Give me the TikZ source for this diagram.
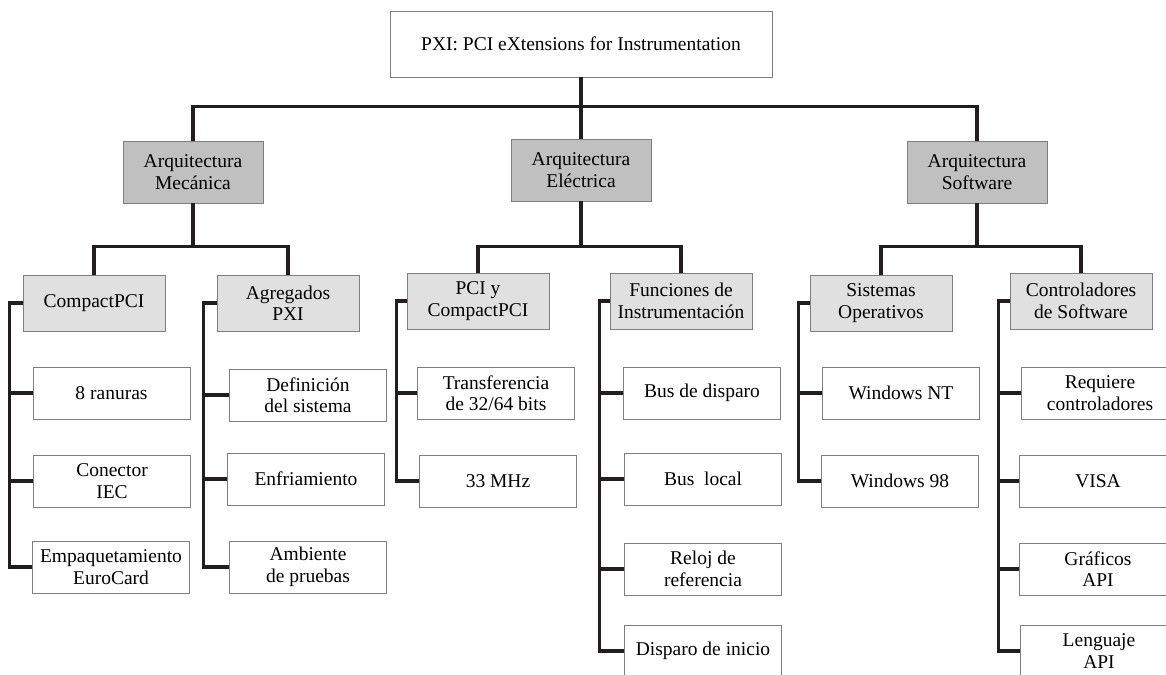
\documentclass[tikz,border=0pt]{standalone}
\usepackage{fontspec}
\setmainfont{Liberation Serif}
\definecolor{edgegray}{HTML}{7F7F7F}
\definecolor{linedark}{HTML}{221E1F}
\definecolor{fillmid}{HTML}{C0C0C0}
\definecolor{filllight}{HTML}{E0E0E0}
\begin{document}
\begin{tikzpicture}[x=1bp,y=-1bp,
  basebox/.style={draw=edgegray, line width=0.9bp, align=center, inner sep=0pt,
    font=\fontsize{19.5bp}{21.5bp}\selectfont},
  rootbox/.style={basebox, fill=white, minimum width=382bp, minimum height=66bp},
  areabox/.style={basebox, fill=fillmid, minimum width=140bp, minimum height=62bp},
  groupbox/.style={basebox, fill=filllight, minimum width=142bp, minimum height=56bp},
  leafbox/.style={basebox, fill=white, minimum width=157bp, minimum height=52bp},
  conn/.style={draw=linedark, line width=3.3bp}
]
\fill[white] (0,0) rectangle (1166,675);
\useasboundingbox (0,0) rectangle (1166,675);
\clip (0,0) rectangle (1166,675);

% top of the tree
\node[rootbox] (root) at (581,44) {PXI: PCI eXtensions for Instrumentation};

% the three architectures
\node[areabox] (mec) at (193,172) {Arquitectura\\Mecánica};
\node[areabox] (ele) at (581,170) {Arquitectura\\Eléctrica};
\node[areabox] (sw)  at (977,172) {Arquitectura\\Software};

% second level
\node[groupbox] (cp)  at (94,303)   {CompactPCI};
\node[groupbox] (agr) at (288,303)  {Agregados\\PXI};
\node[groupbox] (pci) at (478,301)  {PCI y\\CompactPCI};
\node[groupbox] (fun) at (681,301)  {Funciones de\\Instrumentación};
\node[groupbox] (so)  at (881,303)  {Sistemas\\Operativos};
\node[groupbox] (ctl) at (1081,301) {Controladores\\de Software};

% leaves
\node[leafbox] (cp1) at (111.5,393) {8 ranuras};
\node[leafbox] (cp2) at (112,481)   {Conector\\IEC};
\node[leafbox] (cp3) at (111,567)   {Empaquetamiento\\EuroCard};

\node[leafbox] (agr1) at (308,395) {Definición\\del sistema};
\node[leafbox] (agr2) at (306,479) {Enfriamiento};
\node[leafbox] (agr3) at (308,567) {Ambiente\\de pruebas};

\node[leafbox] (pci1) at (496,393) {Transferencia\\de 32/64 bits};
\node[leafbox] (pci2) at (498,481) {33 MHz};

\node[leafbox] (fun1) at (702,393) {Bus de disparo};
\node[leafbox] (fun2) at (703,479) {Bus\ \ local};
\node[leafbox] (fun3) at (703,569) {Reloj de\\referencia};
\node[leafbox] (fun4) at (703,651) {Disparo de inicio};

\node[leafbox] (so1) at (901,393) {Windows NT};
\node[leafbox] (so2) at (900,481) {Windows 98};

\node[leafbox] (ctl1) at (1100,393) {Requiere\\controladores};
\node[leafbox] (ctl2) at (1098,481) {VISA};
\node[leafbox] (ctl3) at (1098,569) {Gráficos\\API};
\node[leafbox] (ctl4) at (1099,651) {Lenguaje\\API};

% connectors: root to architectures
\draw[conn] (root.south) -- ++(0,29) -| (mec.north);
\draw[conn] (root.south) -- ++(0,29) -| (sw.north);
\draw[conn] (root.south) -- (ele.north);

% architectures to groups
\draw[conn] (mec.south) -- ++(0,43) -| (cp.north);
\draw[conn] (mec.south) -- ++(0,43) -| (agr.north);
\draw[conn] (ele.south) -- ++(0,45) -| (pci.north);
\draw[conn] (ele.south) -- ++(0,45) -| (fun.north);
\draw[conn] (sw.south) -- ++(0,43) -| (so.north);
\draw[conn] (sw.south) -- ++(0,43) -| (ctl.north);

% groups to their leaves
\foreach \p/\n/\o in {cp/3/13, agr/3/13, pci/2/10, fun/4/10, so/2/11, ctl/4/11}{
  \foreach \i in {1,...,\n}{
    \draw[conn] (\p.west) -- ++(-\o,0) |- (\p\i.west);
  }
}
\end{tikzpicture}
\end{document}
